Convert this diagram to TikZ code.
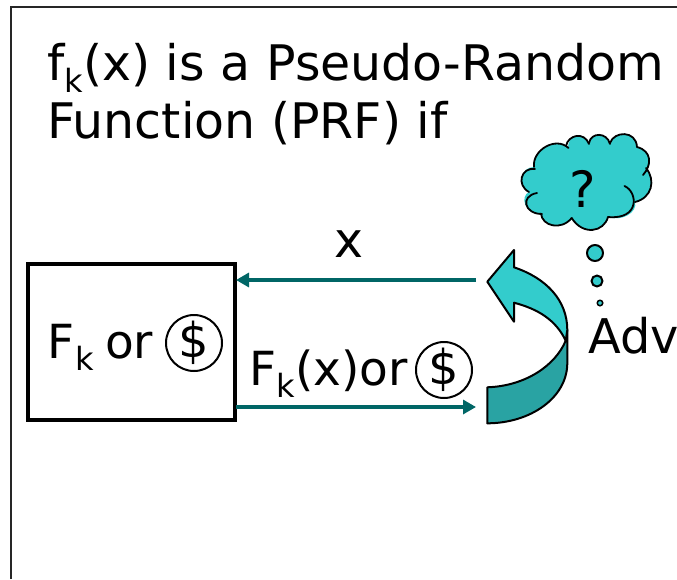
\documentclass[tikz,border=0pt]{standalone}
\usepackage{fontspec}
\setmainfont{DejaVu Sans}
\usetikzlibrary{arrows.meta}
\definecolor{tealf}{RGB}{51,204,204}
\definecolor{teald}{RGB}{41,163,163}
\definecolor{arrowc}{RGB}{0,102,102}
\newcommand{\dollarglyph}{\makebox[0pt]{\smash{\raisebox{-.307em}{\$}}}}
\tikzset{
  x=1pt,y=-1pt,
  txt/.style={inner sep=0pt,anchor=base west,font=\fontsize{49}{49}\selectfont},
  mid/.style={inner sep=0pt,anchor=base west,font=\fontsize{47}{47}\selectfont},
  big/.style={inner sep=0pt,anchor=base west,font=\fontsize{47.8}{48}\selectfont},
  subs/.style={inner sep=0pt,anchor=base west,font=\fontsize{32}{32}\selectfont},
  conn/.style={draw=arrowc,line width=3.2pt,-{Triangle[length=13pt,width=14pt]}},
  shp/.style={draw=black,line width=2pt,fill=tealf,line join=round},
  shpthin/.style={draw=black,line width=1.5pt,fill=tealf},
  dollar/.style={circle,draw=black,line width=2pt,minimum size=56pt,inner sep=0pt,font=\fontsize{48}{48}\selectfont},
}
\begin{document}
\begin{tikzpicture}
\useasboundingbox (0,0) rectangle (677,579);
\draw[line width=1.3pt,black!85] (11,579) -- (11,7) -- (677,7);
\node[txt] (t1) at (47,80) {f};
\node[subs] (t1s) at (64,92) {k};
\node[txt] (t1b) at (83,80) {(x) is a Pseudo-Random};
\node[txt] (t2) at (47,138) {Function (PRF) if};
\node[draw=black,line width=4pt,minimum width=207.5pt,minimum height=156pt,inner sep=0pt] (box) at (131.5,341.7) {};
\node[mid] (fk) at (47,358) {F};
\node[subs] (fks) at (75,370) {k};
\node[mid] (or1) at (105,358) {or};
\node[dollar] (d1) at (194,343) {\dollarglyph};
\node[txt] (xl) at (334,257) {x};
\node[mid] (fk2) at (249,385) {F};
\node[subs] (fk2s) at (276,397) {k};
\node[mid] (fk2b) at (295,385) {(x)or};
\node[dollar] (d2) at (444,370) {\dollarglyph};
\coordinate (inR) at (476,280);
\coordinate (inL) at (236,280);
\coordinate (outL) at (236,407);
\coordinate (outR) at (476,407);
\draw[conn] (inR) -- (inL);
\draw[conn] (outL) -- (outR);
% curved arrow
\path[shp,fill=teald] (487.3,387.3) .. controls (525,386) and (555,366) .. (565.7,340.7) -- (567.3,330) -- (567.3,363)
  .. controls (567.3,398) and (530,423.3) .. (487.3,423.3) -- cycle;
\path[shp] (487.3,281.7) -- (514,250) -- (514,267.3) .. controls (546,278) and (567.3,300) .. (567.3,330) -- (565.7,340.7)
  .. controls (556,320) and (538,309) .. (514,302.7) -- (514,321.7) -- cycle;
% cloud
\fill[tealf] (534,167) .. controls (532,150) and (556,136) .. (568,147)
 .. controls (568,135) and (584,131) .. (589,143)
 .. controls (591,132) and (607,132) .. (610,143)
 .. controls (614,131) and (636,130) .. (637,147)
 .. controls (652,151) and (652,165) .. (647,169)
 .. controls (656,180) and (652,198) .. (635,202)
 .. controls (638,212) and (622,222) .. (608,217)
 .. controls (604,232) and (583,236) .. (571.7,219)
 .. controls (561,231) and (542,226) .. (541,213.5)
 .. controls (524,214) and (520,196) .. (529,192)
 .. controls (516,185) and (521,167) .. (534,167) -- cycle;
\begin{scope}[line width=1.8pt,line cap=round]
\draw (534,167) .. controls (532,150) and (556,136) .. (568.5,148);
\draw (566,146) .. controls (568,135) and (584,131) .. (589,144);
\draw (589,143) .. controls (591,132) and (607,132) .. (610,144);
\draw (610,143) .. controls (614,131) and (636,130) .. (637,147);
\draw (637,147) .. controls (652,151) and (652,165) .. (643,175);
\draw (646,168) .. controls (656,180) and (652,198) .. (635,202);
\draw (624.5,186) .. controls (638,192) and (640,220) .. (608,217);
\draw (608,217) .. controls (604,232) and (583,236) .. (571.7,218);
\draw (571.7,218) .. controls (561,231) and (542,226) .. (541,213.5);
\draw (542,214) .. controls (524,214) and (520,196) .. (537,193);
\draw (529,192) .. controls (516,185) and (521,167) .. (535,169);
\end{scope}
\node[inner sep=0pt,anchor=base,font=\fontsize{50}{50}\selectfont] (q) at (583,207) {?};
\node[shp,circle,minimum size=16pt,inner sep=0pt] (b1) at (595,253) {};
\node[shp,circle,minimum size=11pt,inner sep=0pt] (b2) at (597,281) {};
\node[shpthin,circle,minimum size=5.5pt,inner sep=0pt] (b3) at (600,303) {};
\node[big] (adv) at (588,353) {Adv};
\end{tikzpicture}
\end{document}
